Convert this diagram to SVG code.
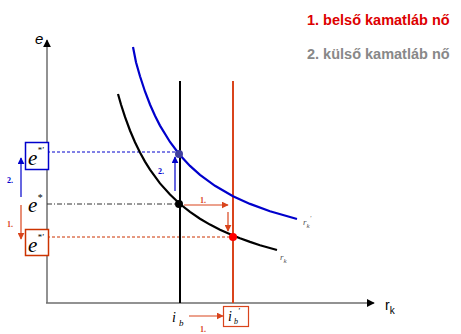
<svg xmlns="http://www.w3.org/2000/svg" width="461" height="334" viewBox="0 0 461 334">
<style>
.ax{stroke:#6e6e6e;stroke-width:1.5;fill:none}
.se{font-family:"Liberation Serif",serif;font-style:italic}
.sa{font-family:"Liberation Sans",Arial,sans-serif}
</style>
<defs>
<marker id="ah" viewBox="0 0 10 10" refX="9" refY="5" markerWidth="8" markerHeight="8" markerUnits="userSpaceOnUse" orient="auto"><path d="M0,0L10,5L0,10z" fill="#000"/></marker>
<marker id="ab" viewBox="0 0 10 10" refX="9" refY="5" markerWidth="7" markerHeight="7" markerUnits="userSpaceOnUse" orient="auto"><path d="M0,0L10,5L0,10z" fill="#0000cc"/></marker>
<marker id="ar" viewBox="0 0 10 10" refX="9" refY="5" markerWidth="7" markerHeight="7" markerUnits="userSpaceOnUse" orient="auto"><path d="M0,0L10,5L0,10z" fill="#d9441c"/></marker>
</defs>
<g id="legend">
<text class="sa" x="307" y="25" font-size="14.5" font-weight="bold" fill="#dd0000">1. belső kamatláb nő</text>
<text class="sa" x="307" y="59" font-size="14.5" font-weight="bold" fill="#888">2. külső kamatláb nő</text>
</g>
<g id="axes">
<line class="ax" x1="47" y1="303" x2="47" y2="40" marker-end="url(#ah)"/>
<line class="ax" x1="46" y1="303" x2="374" y2="303" marker-end="url(#ah)"/>
<text class="sa" x="35" y="44" font-size="15" font-style="italic">e</text>
<text class="sa" x="385" y="310" font-size="14">r<tspan font-size="10" dy="4">k</tspan></text>
</g>
<g id="guides">
<line x1="47" y1="152" x2="179" y2="152" stroke="#0000cc" stroke-width="1" stroke-dasharray="3,2"/>
<line x1="47" y1="204" x2="179" y2="204" stroke="#333" stroke-width="1" stroke-dasharray="5,2,1,2"/>
<line x1="47" y1="237" x2="233" y2="237" stroke="#cc3300" stroke-width="1" stroke-dasharray="3,2"/>
</g>
<g id="verticals">
<line x1="180" y1="81" x2="180" y2="303" stroke="#000" stroke-width="2"/>
<line x1="233" y1="81" x2="233" y2="303" stroke="#d9441c" stroke-width="2"/>
</g>
<g id="curve-rk-prime">
<polyline fill="none" stroke="#0000cc" stroke-width="2.2" points="133,47 136,62.2 140,76.3 145,91.5 150,104.5 155,115.7 160,125.6 170,142 179,154 190,165.9 200,174.9 215,185.8 233,196.2 250,203.9 270,211.2 297,219"/>
<text class="se" x="303" y="225" font-size="9" fill="#555">r<tspan font-size="7" dy="3">k</tspan><tspan font-size="7" dy="-8">'</tspan></text>
</g>
<g id="curve-rk">
<polyline fill="none" stroke="#000" stroke-width="2.2" points="118,94 121,104.5 125,116.9 130,130.5 135,142.2 140,152.5 145,161.6 150,169.7 160,183.4 170,194.6 180,204 190,211.9 200,218.7 210,224.6 220,229.7 233,235.5 240,238.3 250,241.9 260,245.2 277,250"/>
<text class="se" x="280" y="260" font-size="9" fill="#555">r<tspan font-size="7" dy="3">k</tspan></text>
</g>
<g id="points">
<circle cx="179" cy="154" r="4" fill="#3f3f9f"/>
<circle cx="179" cy="204" r="4" fill="#000"/>
<circle cx="233" cy="237" r="4" fill="#ff0000"/>
</g>
<g id="connectors">
<line x1="21" y1="197" x2="21" y2="158" stroke="#0000cc" stroke-width="1.2" marker-end="url(#ab)"/>
<line x1="21" y1="205" x2="21" y2="239" stroke="#d9441c" stroke-width="1.2" marker-end="url(#ar)"/>
<line x1="175" y1="191" x2="175" y2="157" stroke="#0000cc" stroke-width="1.2" marker-end="url(#ab)"/>
<line x1="184" y1="205" x2="228" y2="205" stroke="#d9441c" stroke-width="1.2" marker-end="url(#ar)"/>
<line x1="228" y1="212" x2="228" y2="231" stroke="#d9441c" stroke-width="1.2" marker-end="url(#ar)"/>
<line x1="189" y1="316" x2="223" y2="316" stroke="#d9441c" stroke-width="1.2" marker-end="url(#ar)"/>
</g>
<g id="step-labels" font-family="Liberation Serif,serif" font-weight="bold" font-size="8">
<text x="7" y="183" fill="#0000cc">2.</text>
<text x="7" y="227" fill="#d9441c">1.</text>
<text x="158" y="174" fill="#0000cc">2.</text>
<text x="200" y="203" fill="#d9441c">1.</text>
<text x="200" y="332" fill="#d9441c">1.</text>
</g>
<g id="e-star-prime-blue">
<rect x="25.5" y="142.5" width="23" height="27" fill="#fff" stroke="#0000cc" stroke-width="1.5"/>
<text class="se" x="28" y="165" font-size="21">e<tspan font-size="9" dy="-12">*'</tspan></text>
</g>
<g id="e-star">
<text class="se" x="28" y="212" font-size="21">e<tspan font-size="10" dy="-11">*</tspan></text>
</g>
<g id="e-star-prime-red">
<rect x="25.5" y="229.5" width="23" height="26" fill="#fff" stroke="#cc3300" stroke-width="1.5"/>
<text class="se" x="28" y="252" font-size="21">e<tspan font-size="9" dy="-12">*'</tspan></text>
</g>
<g id="ib">
<text class="se" x="172" y="322" font-size="14">i<tspan font-size="9" dy="4" dx="3">b</tspan></text>
</g>
<g id="ib-prime">
<rect x="223.5" y="306.5" width="25" height="20" fill="#fff" stroke="#d9441c" stroke-width="1.2"/>
<text class="se" x="228" y="321" font-size="14">i<tspan font-size="8" dy="3" dx="2">b</tspan><tspan font-size="8" dy="-10">'</tspan></text>
</g>
</svg>
